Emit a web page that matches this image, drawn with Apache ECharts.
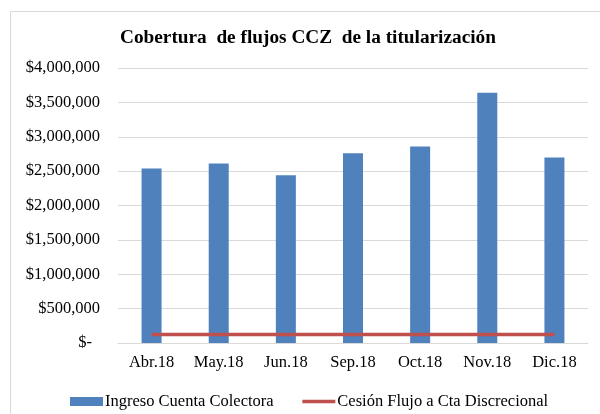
<!DOCTYPE html>
<html>
<head>
<meta charset="utf-8">
<script src="https://cdn.jsdelivr.net/npm/echarts@6/dist/echarts.min.js"></script>
<style>
  html, body { margin: 0; padding: 0; background: #fff; }
  #chart { width: 600px; height: 414px; }
</style>
</head>
<body>
<div id="chart"></div>
<script>
// datos
const meses = ['Abr.18', 'May.18', 'Jun.18', 'Sep.18', 'Oct.18', 'Nov.18', 'Dic.18']
const ingresoColectora = [2540000, 2610000, 2440000, 2760000, 2860000, 3640000, 2700000]
const cesionDiscrecional = [125000, 125000, 125000, 125000, 125000, 125000, 125000]
const serieNombres = ['Ingreso Cuenta Colectora', 'Cesión Flujo a Cta Discrecional']

const myChart = echarts.init(document.getElementById('chart'))

const fuente = '"Liberation Serif", "Times New Roman", serif'

function formatoPesos (v) {
  if (v === 0) return '{z|$-}'
  return '$' + v.toLocaleString('en-US')
}

let option = {
  animation: false,
  color: ['#4f81bd', '#c0504d'],
  textStyle: { fontFamily: fuente },
  title: {
    text: 'Cobertura  de flujos CCZ  de la titularización',
    left: 115,
    top: 24,
    textStyle: {
      fontFamily: fuente,
      fontSize: 19.3,
      fontWeight: 'bold',
      color: '#000'
    }
  },
  graphic: [{
    type: 'rect',
    shape: { x: 10.5, y: 11.5, width: 620, height: 420 },
    style: { fill: 'none', stroke: '#d9d9d9', lineWidth: 1 },
    silent: true
  }],
  legend: {
    left: 65,
    top: 388,
    itemWidth: 33,
    itemHeight: 9,
    itemGap: 27,
    textStyle: { fontFamily: fuente, fontSize: 16.5, color: '#000', padding: [0, 0, 0, -3] },
    lineStyle: { width: 3.5 },
    data: [
      { name: serieNombres[0], icon: 'rect' },
      { name: serieNombres[1], itemStyle: { opacity: 0 }, lineStyle: { width: 3.5 } }
    ]
  },
  grid: {
    left: 118,
    right: 12,
    top: 68,
    bottom: 71
  },
  xAxis: {
    type: 'category',
    data: meses,
    axisLine: { show: true, lineStyle: { color: '#d9d9d9', width: 1 } },
    axisTick: { show: false },
    axisLabel: {
      fontFamily: fuente,
      fontSize: 16.5,
      color: '#000',
      margin: 11
    }
  },
  yAxis: {
    type: 'value',
    min: 0,
    max: 4000000,
    interval: 500000,
    axisLine: { show: false },
    axisTick: { show: false },
    splitLine: { lineStyle: { color: '#d9d9d9', width: 1 } },
    axisLabel: {
      fontFamily: fuente,
      fontSize: 16.5,
      color: '#000',
      margin: 18,
      formatter: formatoPesos,
      rich: {
        z: { fontFamily: fuente, fontSize: 16.5, color: '#000', padding: [0, 8, 0, 0] }
      }
    }
  },
  series: [
    {
      name: serieNombres[0],
      type: 'bar',
      barWidth: 20,
      data: ingresoColectora
    },
    {
      name: serieNombres[1],
      type: 'line',
      symbol: 'none',
      lineStyle: { width: 3.5 },
      data: cesionDiscrecional
    }
  ]
}
myChart.setOption(option, true)
</script>
</body>
</html>
